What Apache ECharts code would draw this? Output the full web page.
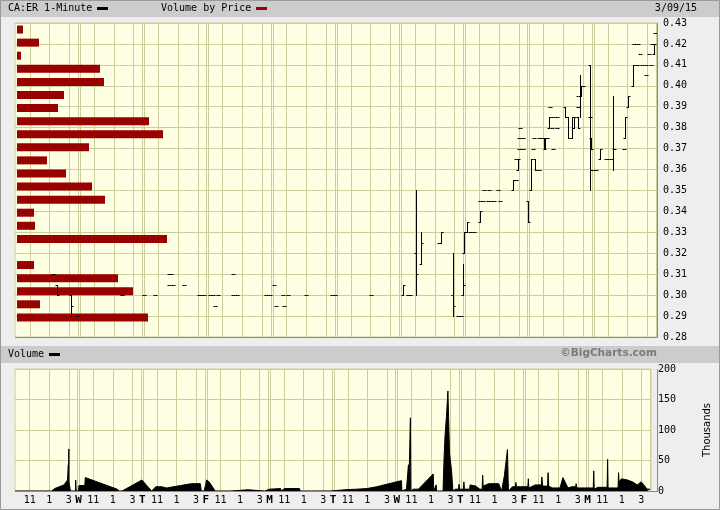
<!DOCTYPE html>
<html>
<head>
<meta charset="utf-8">
<title>CA:ER 1-Minute</title>
<script src="https://cdn.jsdelivr.net/npm/echarts@6/dist/echarts.min.js"></script>
<style>
  html, body { margin: 0; padding: 0; background: #eeeeee; }
  #chart { width: 720px; height: 510px; }
</style>
</head>
<body>
<div id="chart"></div>
<script>
// sessions shown (first one has no letter), 390 one-minute slots each
const dayLetters = ['', 'W', 'T', 'F', 'M', 'T', 'W', 'T', 'F', 'M']
const sessionLen = 390
const hourSlots = [90, 210, 330]
const hourLabels = ['11', '1', '3']

// price axis ticks
const priceMin = 0.28
const priceMax = 0.43
const priceStep = 0.01
// volume axis ticks (thousands)
const volMax = 200
const volStep = 50

// 1-minute bars: [minute slot, open, high, low, close]
const priceBars = [
  [231, .31, .31, .31, .31], [255, .305, .305, .30, .30], [340, .30, .30, .29, .295], [378, .29, .29, .29, .29],
  [650, .30, .30, .30, .30],
  [784, .30, .30, .30, .30], [851, .30, .30, .30, .30], [935, .31, .31, .31, .31], [950, .31, .31, .31, .31],
  [935, .305, .305, .305, .305], [960, .305, .305, .305, .305], [1027, .305, .305, .305, .305],
  [1118, .30, .30, .30, .30], [1132, .30, .30, .30, .30], [1145, .30, .30, .30, .30],
  [1185, .30, .30, .30, .30], [1200, .30, .30, .30, .30], [1215, .295, .295, .295, .295], [1233, .30, .30, .30, .30],
  [1324, .31, .31, .31, .31], [1324, .30, .30, .30, .30], [1350, .30, .30, .30, .30],
  [1525, .30, .30, .30, .30], [1550, .30, .30, .30, .30],
  [1573, .305, .305, .305, .305], [1586, .295, .295, .295, .295], [1628, .30, .30, .30, .30], [1660, .30, .30, .30, .30],
  [1634, .295, .295, .295, .295], [1768, .30, .30, .30, .30], [1926, .30, .30, .30, .30], [1945, .30, .30, .30, .30],
  [2165, .30, .30, .30, .30],
  [2357, .30, .305, .30, .305], [2385, .30, .30, .30, .30], [2400, .30, .30, .30, .30],
  [2436, .32, .35, .30, .31], [2466, .315, .33, .315, .325],
  [2575, .325, .325, .325, .325], [2590, .325, .33, .325, .33],
  [2660, .30, .32, .29, .295], [2690, .29, .29, .29, .29], [2710, .29, .29, .29, .29], [2722, .30, .315, .30, .305],
  [2728, .32, .33, .32, .33], [2745, .33, .335, .33, .335], [2765, .33, .33, .33, .33], [2790, .33, .33, .33, .33],
  [2825, .335, .34, .335, .34],
  [2825, .345, .345, .345, .345], [2845, .345, .345, .345, .345], [2870, .345, .345, .345, .345],
  [2890, .345, .345, .345, .345], [2910, .345, .345, .345, .345], [2945, .345, .345, .345, .345],
  [2850, .35, .35, .35, .35], [2880, .35, .35, .35, .35], [2935, .35, .35, .35, .35],
  [3025, .35, .355, .35, .355], [3040, .355, .355, .355, .355], [3056, .36, .365, .36, .365],
  [3045, .365, .365, .365, .365], [3060, .37, .37, .37, .37], [3085, .37, .37, .37, .37],
  [3060, .375, .375, .375, .375], [3085, .375, .375, .375, .375], [3065, .38, .38, .38, .38],
  [3116, .345, .345, .335, .335], [3135, .35, .365, .35, .365], [3159, .365, .365, .36, .36], [3180, .36, .36, .36, .36],
  [3145, .37, .37, .37, .37], [3155, .375, .375, .375, .375], [3180, .375, .375, .375, .375],
  [3212, .375, .375, .37, .37], [3218, .37, .375, .37, .375], [3200, .375, .375, .375, .375], [3228, .375, .375, .375, .375],
  [3268, .37, .37, .37, .37],
  [3244, .38, .385, .38, .385], [3265, .385, .385, .385, .385], [3290, .385, .385, .385, .385],
  [3262, .38, .38, .38, .38], [3290, .38, .38, .38, .38], [3250, .39, .39, .39, .39],
  [3341, .39, .39, .385, .385], [3359, .385, .385, .375, .375], [3384, .375, .385, .375, .385],
  [3396, .38, .385, .38, .385], [3418, .385, .385, .38, .38],
  [3432, .39, .405, .385, .40], [3436, .395, .40, .395, .40], [3422, .39, .39, .39, .39], [3422, .395, .395, .395, .395],
  [3452, .40, .40, .40, .40],
  [3493, .41, .41, .35, .36], [3497, .375, .375, .37, .37], [3490, .385, .385, .385, .385],
  [3510, .36, .36, .36, .36], [3530, .36, .36, .36, .36], [3553, .365, .37, .365, .37],
  [3590, .365, .365, .365, .365], [3605, .365, .365, .365, .365],
  [3633, .365, .395, .36, .37], [3638, .37, .37, .37, .37],
  [3700, .37, .37, .37, .37], [3705, .375, .385, .375, .385], [3725, .39, .395, .39, .395],
  [3755, .40, .41, .40, .41], [3780, .41, .41, .41, .41], [3805, .41, .41, .41, .41], [3835, .41, .41, .41, .41], [3865, .41, .41, .41, .41],
  [3830, .405, .405, .405, .405], [3762, .42, .42, .42, .42], [3782, .42, .42, .42, .42],
  [3795, .415, .415, .415, .415], [3850, .415, .415, .415, .415],
  [3882, .415, .42, .415, .42], [3870, .42, .42, .42, .42], [3885, .425, .425, .425, .425]
]

// volume (thousands) at minute slots
const volMinute = [
  0, 225, 243, 300, 322, 327, 328, 330, 331, 334, 340,
  371, 372, 375, 389, 392, 428, 431, 626, 640,
  656, 778, 838, 863, 899, 905, 929, 1015, 1081, 1136, 1142,
  1160, 1175, 1190, 1203, 1227, 1324, 1326, 1428, 1430,
  1531, 1533, 1561, 1567, 1628, 1632, 1652, 1744, 1748,
  1932, 1934, 1940, 2023, 2096, 2157, 2217, 2369, 2372,
  2400, 2406, 2410, 2412, 2414, 2424, 2427, 2442, 2473, 2564, 2567, 2582, 2585,
  2624, 2630, 2636, 2645, 2654, 2658, 2664, 2676, 2685,
  2700, 2719, 2722, 2725, 2749, 2752, 2755, 2787, 2790, 2825, 2850, 2864, 2867, 2870, 2904, 2965, 2983,
  3000, 3019, 3025, 3050, 3068, 3071, 3074, 3100, 3144, 3147, 3150, 3189, 3227, 3230, 3235, 3265, 3268, 3272,
  3292, 3341, 3359, 3390, 3414, 3437, 3440, 3445, 3493, 3545, 3548, 3551,
  3572, 3630, 3633, 3636, 3680, 3697, 3700, 3703, 3718, 3755, 3785, 3815, 3839, 3876, 3894
]
const volThousands = [
  0, 0, 4, 10, 18, 43, 20, 69, 15, 10, 0,
  0, 18, 0, 0, 9, 9, 22, 3, 0,
  0, 18, 0, 7, 7, 4, 5, 9, 12, 12, 0,
  0, 18, 15, 10, 0, 0, 2, 2, 0,
  0, 3, 3, 4, 4, 0, 4, 4, 0,
  0, 1, 0, 2, 3, 4, 7, 17, 0,
  3, 3, 0, 43, 0, 120, 0, 3, 3, 28, 0, 10, 0,
  0, 51, 89, 122, 164, 122, 62, 34, 0,
  3, 3, 11, 3, 3, 15, 3, 3, 10, 8, 3, 3, 26, 8, 12, 12, 0,
  25, 68, 0, 7, 7, 14, 7, 7, 7, 20, 5, 10, 10, 23, 8, 8, 30, 8,
  5, 5, 22, 5, 7, 7, 12, 5, 5, 5, 33, 3,
  6, 6, 52, 5, 5, 5, 30, 15, 20, 18, 15, 10, 15, 3, 3
]

// volume by price: bins from top (0.43) down to bottom (0.28)
const vbpBins = ['0.4269', '0.4206', '0.4144', '0.4081', '0.4019', '0.3956', '0.3894', '0.3831',
  '0.3769', '0.3706', '0.3644', '0.3581', '0.3519', '0.3456', '0.3394', '0.3331',
  '0.3269', '0.3206', '0.3144', '0.3081', '0.3019', '0.2956', '0.2894', '0.2831']
const vbpVolume = [6, 22, 4, 83, 87, 47, 41, 132, 146, 72, 30, 49, 75, 88, 17, 18, 150, 0, 17, 101, 116, 23, 131, 0]

const minutes = []
for (let i = 0; i < dayLetters.length * sessionLen; i++) minutes.push(String(i))

const mono = 'DejaVu Sans Mono'
const gridColor = '#cdcd9b'
const plotBg = '#ffffe3'

// lines at 11, 1, 3 plus a double line at every session break
const splitEvery = function (idx) {
  const m = idx % sessionLen
  if (hourSlots.indexOf(m) >= 0) return true
  if (idx > sessionLen && m === 6) return true
  if (idx > 300 && m === sessionLen - 6) return true
  return false
}

const xBase = {
  type: 'category',
  data: minutes,
  boundaryGap: false,
  axisLine: { show: false },
  axisTick: { show: false },
  splitLine: { show: true, interval: splitEvery, lineStyle: { color: gridColor, width: 1 } }
}

const chart = echarts.init(document.getElementById('chart'))

chart.setOption({
  animation: false,
  backgroundColor: '#eeeeee',
  grid: [
    { left: 15, top: 23, width: 642, height: 314, show: true, backgroundColor: plotBg, borderColor: gridColor },
    { left: 17, top: 23, width: 640, height: 314 },
    { left: 15, top: 369, width: 642, height: 122, show: true, backgroundColor: plotBg, borderColor: gridColor }
  ],
  xAxis: [
    Object.assign({ gridIndex: 0, axisLabel: { show: false } }, xBase),
    { gridIndex: 1, type: 'value', min: 0, max: 640, show: false },
    Object.assign({ gridIndex: 2 }, xBase, {
      axisLabel: {
        show: true,
        margin: 4,
        fontFamily: mono,
        fontSize: 10,
        color: '#000',
        interval: function (idx) {
          const m = idx % sessionLen
          return hourSlots.indexOf(m) >= 0 || (m === 0 && idx > 0)
        },
        formatter: function (value) {
          const idx = Number(value)
          const m = idx % sessionLen
          if (m === 0) return '{day|' + dayLetters[idx / sessionLen] + '}'
          return hourLabels[hourSlots.indexOf(m)]
        },
        rich: { day: { fontFamily: mono, fontSize: 11, fontWeight: 'bold', color: '#000' } }
      }
    })
  ],
  yAxis: [
    {
      gridIndex: 0, type: 'value', position: 'right',
      min: priceMin, max: priceMax, interval: priceStep,
      axisLine: { show: false }, axisTick: { show: false },
      axisLabel: { margin: 6, fontFamily: mono, fontSize: 10, color: '#000', formatter: v => v.toFixed(2) },
      splitLine: { lineStyle: { color: gridColor } }
    },
    {
      gridIndex: 1, type: 'category', data: vbpBins, inverse: true, show: false
    },
    {
      gridIndex: 2, type: 'value', position: 'right',
      min: 0, max: volMax, interval: volStep,
      axisLine: { show: false }, axisTick: { show: false },
      axisLabel: { margin: 7, fontFamily: mono, fontSize: 10, color: '#000' },
      splitLine: { lineStyle: { color: gridColor } },
      name: 'Thousands', nameLocation: 'middle', nameRotate: 90, nameGap: 51,
      nameTextStyle: { fontFamily: 'DejaVu Sans', fontSize: 10, color: '#000' }
    }
  ],
  series: [
    {
      // volume by price
      type: 'bar',
      xAxisIndex: 1, yAxisIndex: 1,
      data: vbpVolume,
      barWidth: 8,
      itemStyle: { color: '#990000' },
      z: 2
    },
    {
      // 1-minute OHLC ticks
      type: 'custom',
      xAxisIndex: 0, yAxisIndex: 0,
      data: priceBars,
      clip: true,
      z: 3,
      renderItem: function (params, api) {
        const idx = api.value(0)
        const pO = api.coord([idx, api.value(1)])
        const pH = api.coord([idx, api.value(2)])
        const pL = api.coord([idx, api.value(3)])
        const pC = api.coord([idx, api.value(4)])
        const x = Math.round(pH[0]) + 0.5
        const yO = Math.round(pO[1]) + 0.5
        const yC = Math.round(pC[1]) + 0.5
        const style = { stroke: '#000', lineWidth: 1 }
        const kids = [
          { type: 'line', shape: { x1: x - 2, y1: yO, x2: x, y2: yO }, style: style },
          { type: 'line', shape: { x1: x, y1: yC, x2: x + 2, y2: yC }, style: style }
        ]
        if (pL[1] - pH[1] > 1) {
          kids.push({ type: 'line', shape: { x1: x, y1: Math.round(pH[1]), x2: x, y2: Math.round(pL[1]) + 1 }, style: style })
        }
        return { type: 'group', children: kids }
      }
    },
    {
      name: 'Volume',
      type: 'line',
      xAxisIndex: 2, yAxisIndex: 2,
      data: volMinute.map((m, i) => [m, volThousands[i]]),
      symbol: 'none',
      lineStyle: { color: '#000', width: 1 },
      areaStyle: { color: '#000', opacity: 1 },
      z: 3
    }
  ],
  graphic: [
    // header bands
    { type: 'rect', shape: { x: 0, y: 0, width: 720, height: 17 }, style: { fill: '#cccccc' }, z: 0 },
    { type: 'rect', shape: { x: 0, y: 346, width: 720, height: 17 }, style: { fill: '#cccccc' }, z: 0 },
    { type: 'text', left: 8, top: 3, style: { text: 'CA:ER 1-Minute', font: '10px "DejaVu Sans Mono"', fill: '#000' } },
    { type: 'rect', shape: { x: 97, y: 7, width: 11, height: 3 }, style: { fill: '#000' } },
    { type: 'text', left: 161, top: 3, style: { text: 'Volume by Price', font: '10px "DejaVu Sans Mono"', fill: '#000' } },
    { type: 'rect', shape: { x: 256, y: 7, width: 11, height: 3 }, style: { fill: '#990000' } },
    { type: 'text', right: 23, top: 3, style: { text: '3/09/15', font: '10px "DejaVu Sans Mono"', fill: '#000' } },
    { type: 'text', left: 8, top: 349, style: { text: 'Volume', font: '10px "DejaVu Sans Mono"', fill: '#000' } },
    { type: 'rect', shape: { x: 49, y: 353, width: 11, height: 3 }, style: { fill: '#000' } },
    { type: 'text', right: 63, top: 348, style: { text: '©BigCharts.com', font: 'bold 10.5px "DejaVu Sans"', fill: '#7a7a7a' } },
    // darker bottom/right plot edges
    { type: 'polyline', shape: { points: [[15, 337.5], [657.5, 337.5], [657.5, 23]] }, style: { stroke: '#8a8a8a', lineWidth: 1, fill: null }, z: 10 },
    { type: 'polyline', shape: { points: [[15, 491.5], [657.5, 491.5], [657.5, 369]] }, style: { stroke: '#8a8a8a', lineWidth: 1, fill: null }, z: 10 },
    // outer frame
    { type: 'rect', shape: { x: 0.5, y: 0.5, width: 719, height: 509 }, style: { fill: null, stroke: '#9a9a9a', lineWidth: 1 }, z: 10 }
  ]
})
</script>
</body>
</html>
